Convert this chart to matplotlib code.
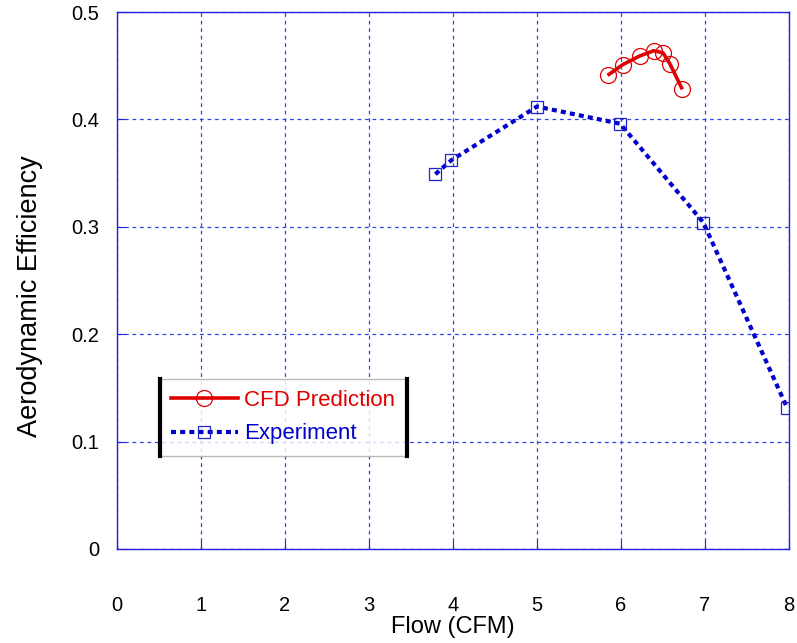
import matplotlib
matplotlib.use("Agg")
import matplotlib.pyplot as plt
from matplotlib.lines import Line2D

plt.rcParams['font.family'] = ['Liberation Sans', 'DejaVu Sans']

cfd_flow = [5.84, 6.02, 6.22, 6.39, 6.50, 6.58, 6.73]
cfd_eff = [0.441, 0.451, 0.459, 0.464, 0.462, 0.452, 0.428]

exp_flow = [3.79, 3.98, 5.0, 5.99, 6.98, 7.98]
exp_eff = [0.349, 0.362, 0.412, 0.396, 0.304, 0.131]

xticks = [0, 1, 2, 3, 4, 5, 6, 7, 8]
yticks = [0, 0.1, 0.2, 0.3, 0.4, 0.5]
yticklabels = ['0', '0.1', '0.2', '0.3', '0.4', '0.5']

fig = plt.figure(figsize=(7.97, 6.43), dpi=100)
ax = fig.add_axes([0.1468, 0.1462, 0.8432, 0.8351])

ax.plot(cfd_flow, cfd_eff, color='#e00000', lw=2.6, solid_capstyle='butt', zorder=3)
ax.plot(cfd_flow, cfd_eff, ls='none', marker='o', ms=11.5, mfc='none', mec='#e00000', mew=0.9, zorder=4)

ax.plot(exp_flow, exp_eff, color='#0000cc', lw=3, ls=(0, (1.2, 1.0)), zorder=3)
ax.plot(exp_flow, exp_eff, ls='none', marker='s', ms=8.5, mfc='none', mec='#2222cc', mew=0.9, zorder=4)

ax.set_xlim(0, 8)
ax.set_ylim(0, 0.5)
ax.set_xticks(xticks)
ax.set_yticks(yticks)
ax.set_yticklabels(yticklabels)
ax.grid(True, color='#3344ee', ls=(0, (3, 3)), lw=0.9)
for s in ax.spines.values():
    s.set_color('#2222dd')
    s.set_linewidth(1.0)
ax.tick_params(axis='x', direction='in', length=6, color='#2222dd', pad=34, labelsize=14.5)
ax.tick_params(axis='y', direction='in', length=6, color='#2222dd', pad=13, labelsize=14.5)

ax.set_xlabel('Flow (CFM)', fontsize=17)
ax.xaxis.set_label_coords(0.5, -0.124)
ax.set_ylabel('Aerodynamic Efficiency', fontsize=19.5)
ax.yaxis.set_label_coords(-0.11, 0.47)

handles = [
    Line2D([0], [0], color='#e00000', lw=2.6, marker='o', ms=11.5, mfc='none', mec='#e00000', mew=0.9),
    Line2D([0], [0], color='#0000cc', lw=3, ls=(0, (1.2, 1.0)), marker='s', ms=8.5, mfc='none', mec='#2222cc', mew=0.9),
]
leg = ax.legend(handles, ['CFD Prediction', 'Experiment'], loc='lower left',
                bbox_to_anchor=(0.064, 0.174), fontsize=16, frameon=True, fancybox=False,
                handlelength=3.0, borderpad=0.5, labelspacing=0.55, handletextpad=0.3,
                borderaxespad=0)
leg.get_frame().set_edgecolor('#aaaaaa')
leg.get_frame().set_linewidth(1.0)
texts = leg.get_texts()
texts[0].set_color('#e00000')
texts[1].set_color('#0000cc')

fig.canvas.draw()
bb = leg.get_window_extent().transformed(fig.transFigure.inverted())
for xx in (bb.x0, bb.x1):
    fig.add_artist(Line2D([xx, xx], [bb.y0, bb.y1], color='black', lw=3, transform=fig.transFigure, zorder=10))

fig.savefig('out.png', dpi=100)
